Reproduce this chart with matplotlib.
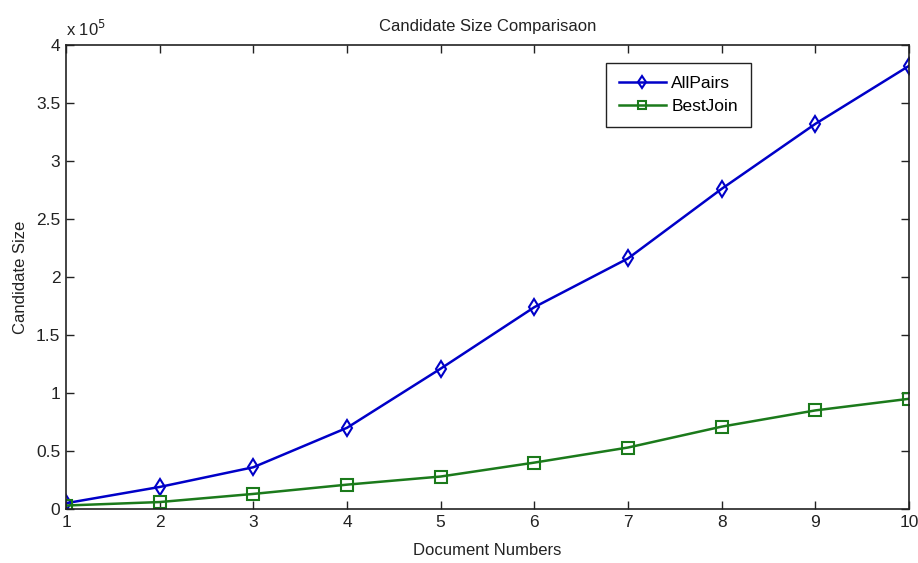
import matplotlib.pyplot as plt
import numpy as np
from matplotlib.ticker import FuncFormatter

plt.rcParams['font.family'] = ['Liberation Sans', 'DejaVu Sans']

# candidate sizes (units of 1e5)
docs = [1, 2, 3, 4, 5, 6, 7, 8, 9, 10]
allpairs = [0.05, 0.19, 0.36, 0.70, 1.21, 1.74, 2.16, 2.76, 3.32, 3.82]
bestjoin = [0.03, 0.06, 0.13, 0.21, 0.28, 0.40, 0.53, 0.71, 0.85, 0.95]
scale = 1e5

fig = plt.figure(figsize=(9.18, 5.63), dpi=100)
ax = fig.add_axes([0.0719, 0.0959, 0.9183, 0.8242])

ax.plot(docs, np.array(allpairs) * scale, color='#0000C8', lw=1.8, marker='d',
        ms=8, mfc='none', mec='#0000C8', mew=1.5, label='AllPairs')
ax.plot(docs, np.array(bestjoin) * scale, color='#1B7A1B', lw=1.8, marker='s',
        ms=8, mfc='none', mec='#1B7A1B', mew=1.5, label='BestJoin')

ax.set_xlim(1, 10)
ax.set_ylim(0, 4e5)
ax.set_xticks(docs)
ax.set_yticks(np.arange(0, 4.01, 0.5) * scale)
ax.yaxis.set_major_formatter(FuncFormatter(lambda v, p: ('%g' % (v / scale))))
ax.tick_params(direction='in', top=True, right=True, length=6, width=1,
               labelsize=12.5, colors='#222222', pad=4)
for s in ax.spines.values():
    s.set_linewidth(1.2)
    s.set_color('#222222')

ax.text(0.0, 1.012, r'x 10$^5$', transform=ax.transAxes, fontsize=12,
        ha='left', va='bottom', color='#222222')
ax.set_title('Candidate Size Comparisaon', fontsize=12, pad=10, color='#222222')
ax.set_xlabel('Document Numbers', fontsize=12, labelpad=10, color='#222222')
ax.set_ylabel('Candidate Size', fontsize=12, labelpad=6, color='#222222')

leg = ax.legend(loc='upper left', bbox_to_anchor=(0.6406, 0.962), fontsize=12.5,
                fancybox=False, framealpha=1, edgecolor='#222222',
                handlelength=2.7, handletextpad=0.3, borderpad=0.75,
                labelspacing=0.45, borderaxespad=0, markerscale=0.8)
leg.get_frame().set_linewidth(1.0)

fig.savefig('out.png', dpi=100)
